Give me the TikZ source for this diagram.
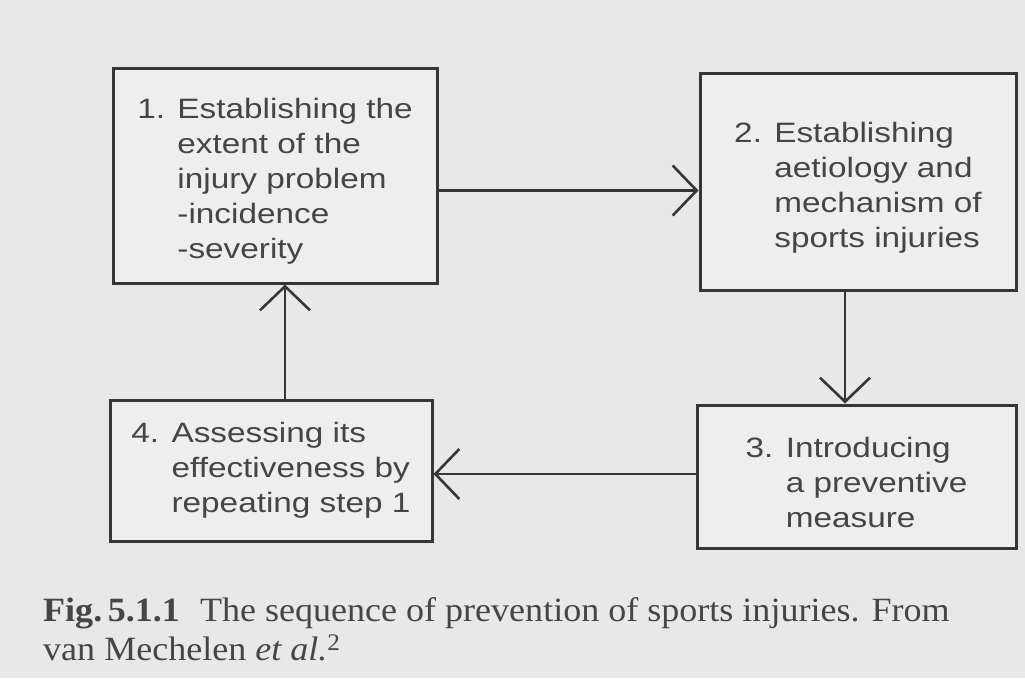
\documentclass[tikz,border=0pt]{standalone}
\usepackage{fontspec}
\setmainfont{Liberation Serif}
\newfontfamily\boxfont[FakeStretch=1.19]{Liberation Sans}
\newfontfamily\capfont[FakeStretch=1.06]{Liberation Serif}
\usetikzlibrary{arrows.meta,positioning}
\definecolor{paper}{HTML}{E8E8E8}
\definecolor{boxbg}{HTML}{EEEEEE}
\definecolor{ink}{HTML}{363636}
\definecolor{print}{HTML}{454545}
\newcommand{\stepindent}{\hphantom{1. }}
\newcommand{\toppad}{\rule{0pt}{32pt}}

\tikzset{
  stepbox/.style={draw=ink,line width=3pt,fill=boxbg,align=left,inner sep=0pt,
    text=print,font=\boxfont\fontsize{28}{35}\selectfont},
  flow/.style={draw=ink,line width=2.6pt,-{Straight Barb[length=24pt,width=50pt]}},
  captext/.style={anchor=base west,inner sep=0pt,text=print,font=\capfont\fontsize{34}{37}\selectfont}
}

\begin{document}
\begin{tikzpicture}[x=1pt,y=-1pt]
  % paper
  \fill[paper] (0,0) rectangle (1025,678);
  \useasboundingbox (0,0) rectangle (1025,678);

  % the four steps
  \node[stepbox,minimum width=324pt,minimum height=215pt] (b1) at (275,175.5)
    {\toppad 1. Establishing the\\\stepindent extent of the\\\stepindent injury problem\\\stepindent -incidence\\\stepindent -severity};
  \node[stepbox,minimum width=316pt,minimum height=217pt] (b2) at (858,181.5)
    {\toppad 2. Establishing\\\stepindent aetiology and\\\stepindent mechanism of\\\stepindent sports injuries};
  \node[stepbox,minimum width=319pt,minimum height=143pt] (b3) at (856.5,476.5)
    {\toppad 3. Introducing\\\stepindent a preventive\\\stepindent measure};
  \node[stepbox,minimum width=322pt,minimum height=141pt] (b4) at (271,470.5)
    {4. Assessing its\\\stepindent effectiveness by\\\stepindent repeating step 1};

  % cycle
  \coordinate (a12) at ([yshift=-15pt]b1.east);
  \coordinate (a23) at ([xshift=-13pt]b2.south);
  \coordinate (a34) at ([yshift=2.5pt]b3.west);
  \coordinate (a41) at ([xshift=14pt]b4.north);
  \draw[flow] (a12) -- (a12 -| b2.west);
  \draw[flow] (a23) -- (a23 |- b3.north);
  \draw[flow] (a34) -- (a34 -| b4.east);
  \draw[flow] (a41) -- (a41 |- b1.south);

  % caption
  \node[captext] (cap1) at (43,621)
    {\textbf{Fig.\,5.1.1}\hspace{20pt}The sequence of prevention of sports injuries. From};
  \node[captext] (cap2) at (43,660)
    {van Mechelen \textit{et al.}\textsuperscript{2}};
\end{tikzpicture}
\end{document}
